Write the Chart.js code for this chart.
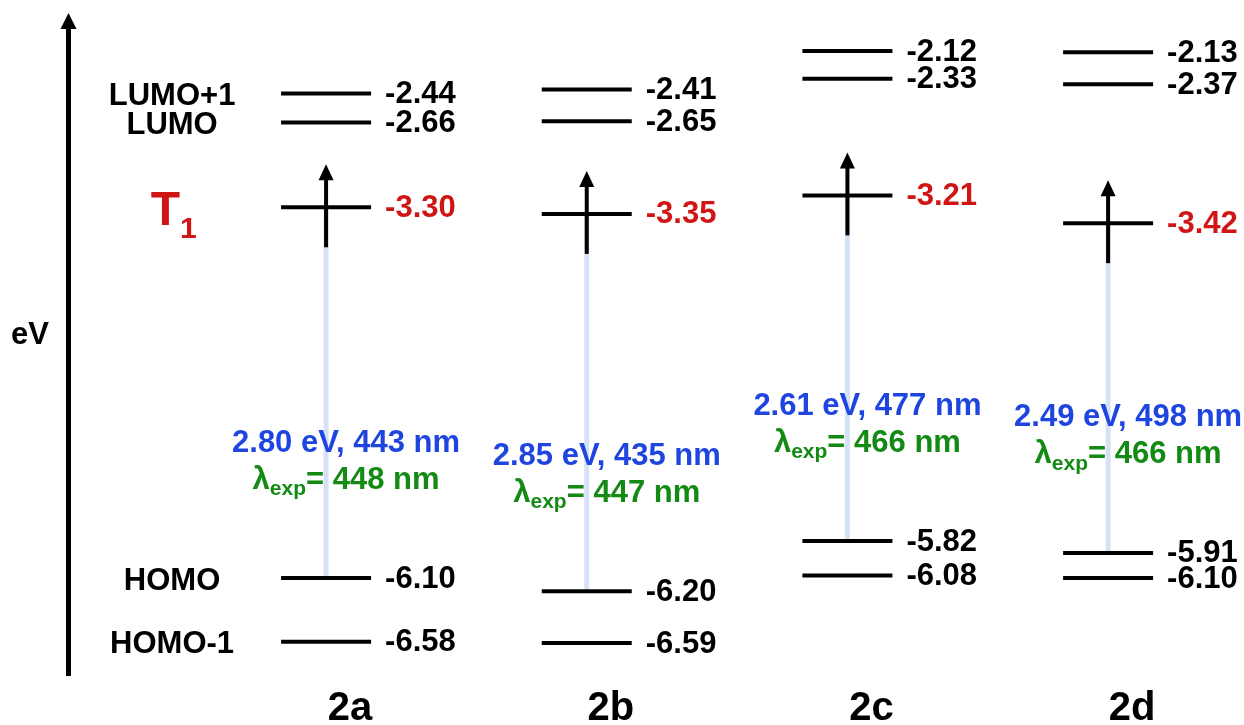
<!DOCTYPE html>
<html>
<head>
<meta charset="utf-8">
<script src="https://cdn.jsdelivr.net/npm/chart.js"></script>
<style>
  html, body { margin: 0; padding: 0; background: #fff; }
  canvas { display: block; }
</style>
</head>
<body>
<canvas id="levels" width="1244" height="725"></canvas>
<script>
// orbital / triplet energies in eV, one entry per compound
const compounds = ['2a', '2b', '2c', '2d'];
const lumoPlus1 = [-2.44, -2.41, -2.12, -2.13];
const lumo = [-2.66, -2.65, -2.33, -2.37];
const triplet = [-3.30, -3.35, -3.21, -3.42];
const homo = [-6.10, -6.20, -5.82, -5.91];
const homoMinus1 = [-6.58, -6.59, -6.08, -6.10];
// T1 -> HOMO gap and the measured emission
const gapEv = [2.80, 2.85, 2.61, 2.49];
const gapNm = [443, 435, 477, 498];
const expNm = [448, 447, 466, 466];
const levelNames = ['LUMO+1', 'LUMO', 'T1', 'HOMO', 'HOMO-1'];

const FONT = '"Liberation Sans", Arial, sans-serif';
const RED = '#d01515';
const BLUE = '#1f45e0';
const GREEN = '#138a13';
const PALE = '#d5e1f5';

const levels = [lumoPlus1, lumo, triplet, homo, homoMinus1];

const datasets = levels.map((vals, k) => ({
    label: levelNames[k],
    data: vals.map((v, i) => ({ x: i, y: v })),
    pointStyle: 'line',
    pointRadius: 45,
    pointHoverRadius: 45,
    pointBorderWidth: 4,
    pointHoverBorderWidth: 4,
    pointBorderColor: '#000',
    showLine: false,
    order: 1
}));

compounds.forEach((c, i) => {
    datasets.push({
        label: c + ' T1-HOMO',
        data: [{ x: i, y: triplet[i] }, { x: i, y: homo[i] }],
        showLine: true,
        borderColor: PALE,
        borderWidth: 5,
        pointRadius: 0,
        order: 2
    });
});

const decor = {
    id: 'decor',
    afterDatasetsDraw(chart) {
        const ctx = chart.ctx;
        const xs = chart.scales.x;
        const ys = chart.scales.y;
        const area = chart.chartArea;
        ctx.save();

        // arrow head on the energy axis
        ctx.fillStyle = '#000';
        ctx.beginPath();
        ctx.moveTo(area.left + 0.5, area.top - 15);
        ctx.lineTo(area.left - 7.5, area.top + 1);
        ctx.lineTo(area.left + 8.5, area.top + 1);
        ctx.closePath();
        ctx.fill();

        // eV label
        ctx.font = 'bold 31px ' + FONT;
        ctx.textAlign = 'center';
        ctx.textBaseline = 'middle';
        ctx.fillText('eV', 30, 335);

        // spin arrows through the T1 levels
        triplet.forEach((v, i) => {
            const px = xs.getPixelForValue(i);
            const py = ys.getPixelForValue(v);
            ctx.strokeStyle = '#000';
            ctx.lineWidth = 4;
            ctx.beginPath();
            ctx.moveTo(px, py + 40);
            ctx.lineTo(px, py - 28);
            ctx.stroke();
            ctx.beginPath();
            ctx.moveTo(px, py - 43);
            ctx.lineTo(px - 7.5, py - 27);
            ctx.lineTo(px + 7.5, py - 27);
            ctx.closePath();
            ctx.fill();
        });

        // energy values next to each level
        ctx.font = 'bold 31px ' + FONT;
        ctx.textAlign = 'left';
        levels.forEach((vals, k) => {
            chart.getDatasetMeta(k).data.forEach((pt, i) => {
                ctx.fillStyle = vals === triplet ? RED : '#000';
                ctx.fillText(vals[i].toFixed(2), pt.x + 59, pt.y + 1);
            });
        });

        // level names left of the first compound
        const nx = xs.getPixelForValue(0) - 154;
        levels.forEach((vals, k) => {
            const py = ys.getPixelForValue(vals[0]);
            if (levelNames[k] === 'T1') {
                ctx.fillStyle = RED;
                ctx.font = 'bold 48px ' + FONT;
                ctx.textAlign = 'right';
                ctx.textBaseline = 'alphabetic';
                ctx.fillText('T', nx + 8, py + 18);
                ctx.font = 'bold 30px ' + FONT;
                ctx.textAlign = 'left';
                ctx.fillText('1', nx + 8, py + 31);
            } else {
                ctx.fillStyle = '#000';
                ctx.font = 'bold 31px ' + FONT;
                ctx.textAlign = 'center';
                ctx.textBaseline = 'middle';
                ctx.fillText(levelNames[k], nx, py + 3);
            }
        });

        // gap and experimental wavelength
        compounds.forEach((c, i) => {
            const cx = xs.getPixelForValue(i) + 20;
            const cy = ys.getPixelForValue(homo[i]) - 135;
            ctx.textBaseline = 'middle';
            ctx.textAlign = 'center';
            ctx.font = 'bold 31px ' + FONT;
            ctx.fillStyle = BLUE;
            ctx.fillText(gapEv[i].toFixed(2) + ' eV, ' + gapNm[i] + ' nm', cx, cy);

            const big = 'bold 31px ' + FONT;
            const small = 'bold 21px ' + FONT;
            const rest = '= ' + expNm[i] + ' nm';
            ctx.font = big;
            const wl = ctx.measureText('\u03bb').width;
            const wr = ctx.measureText(rest).width;
            ctx.font = small;
            const ws = ctx.measureText('exp').width;
            let x = cx - (wl + ws + wr) / 2;
            const y = cy + 37;
            ctx.fillStyle = GREEN;
            ctx.textAlign = 'left';
            ctx.font = big;
            ctx.fillText('\u03bb', x, y);
            x += wl;
            ctx.font = small;
            ctx.fillText('exp', x, y + 9);
            x += ws;
            ctx.font = big;
            ctx.fillText(rest, x, y);
        });

        ctx.restore();
    }
};

new Chart(document.getElementById('levels'), {
    type: 'scatter',
    data: { datasets: datasets },
    plugins: [decor],
    options: {
        responsive: false,
        animation: false,
        events: [],
        layout: { autoPadding: false, padding: { top: 28, right: 4, left: 0, bottom: 0 } },
        plugins: {
            legend: { display: false },
            tooltip: { enabled: false }
        },
        scales: {
            x: {
                type: 'linear',
                min: -0.99,
                max: 3.506,
                afterBuildTicks: s => { s.ticks = compounds.map((c, i) => ({ value: i })); },
                afterFit: s => { s.height = 50; },
                grid: { display: false, drawTicks: false },
                border: { display: false },
                ticks: {
                    autoSkip: false,
                    maxRotation: 0,
                    labelOffset: 24,
                    padding: 10,
                    color: '#000',
                    font: { family: FONT, size: 40, weight: 'bold' },
                    callback: v => compounds[v]
                }
            },
            y: {
                type: 'linear',
                min: -6.832,
                max: -1.946,
                afterFit: s => { s.width = 68; },
                grid: { display: false, drawTicks: false },
                border: { display: true, color: '#000', width: 5 },
                ticks: { display: false }
            }
        }
    }
});
</script>
</body>
</html>
